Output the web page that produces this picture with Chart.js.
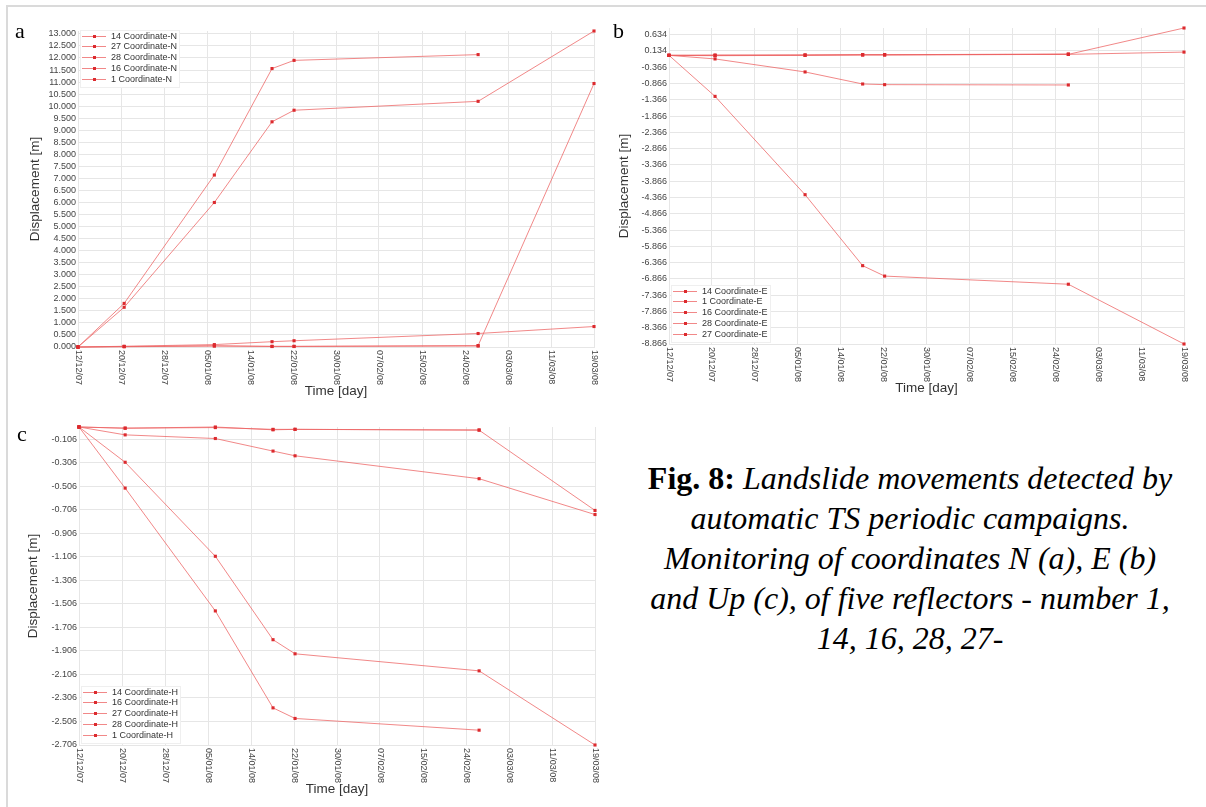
<!DOCTYPE html>
<html>
<head>
<meta charset="utf-8">
<title>Fig. 8 - Landslide movements</title>
<script src="https://cdn.jsdelivr.net/npm/chart.js@4.4.1/dist/chart.umd.min.js"></script>
<style>
    body { margin: 0; background: #fff; }
    #page { position: relative; width: 1206px; height: 807px; overflow: hidden; background: #fff; }
    #frame { position: absolute; left: 6px; top: 5px; right: -4px; bottom: -4px; border-top: 2px solid #dadada; border-left: 2px solid #dadada; }
    canvas { position: absolute; }
    .panel { position: absolute; font: 22px/1 "Liberation Serif", "Times New Roman", serif; color: #000; }
    #caption { position: absolute; left: 615px; top: 458px; width: 590px; text-align: center; font: 32px/40px "Liberation Serif", "Times New Roman", serif; color: #000; }
</style>
</head>
<body>
<div id="page">
    <div id="frame"></div>
    <canvas id="chart_n" width="575" height="382" style="left:23px;top:21px"></canvas>
    <canvas id="chart_e" width="576" height="382" style="left:612px;top:18px"></canvas>
    <canvas id="chart_h" width="578" height="384" style="left:21px;top:417px"></canvas>
    <div class="panel" style="left:15px;top:20px">a</div>
    <div class="panel" style="left:613px;top:20px">b</div>
    <div class="panel" style="left:17px;top:423px">c</div>
    <div id="caption"><b>Fig. 8:</b> <i>Landslide movements detected by<br>automatic TS periodic campaigns.<br>Monitoring of coordinates N (a), E (b)<br>and Up (c), of five reflectors - number 1,<br>14, 16, 28, 27-</i></div>
</div>
<script>
// Survey dates, days from the first campaign (12/12/07)
const surveyDays = [0, 8.8, 26.0, 37.0, 41.2, 76.3, 98.4];

// Time axis
const timeLabels = ['12/12/07', '20/12/07', '28/12/07', '05/01/08', '14/01/08', '22/01/08', '30/01/08', '07/02/08', '15/02/08', '24/02/08', '03/03/08', '11/03/08', '19/03/08'];
const timeStep = 8.2;

// Coordinate N [m]
const n14 = [0, 0.03, 0.10, 0.22, 0.26, 0.56, 0.85];
const n27 = [0, 1.81, 7.14, 11.56, 11.90, 12.14, null];
const n28 = [0, 0.01, 0.04, 0.02, 0.02, 0.04, null];
const n16 = [0, 0.02, 0.05, 0.03, 0.03, 0.06, 10.94];
const n1 = [0, 1.65, 6.00, 9.35, 9.83, 10.20, 13.12];
const nTicks = [0, 0.5, 1, 1.5, 2, 2.5, 3, 3.5, 4, 4.5, 5, 5.5, 6, 6.5, 7, 7.5, 8, 8.5, 9, 9.5, 10, 10.5, 11, 11.5, 12, 12.5, 13];

// Coordinate E [m]
const e14 = [0, -0.01, 0.00, 0.01, 0.01, 0.03, 0.10];
const e1 = [0, -1.26, -4.28, -6.46, -6.78, -7.03, -8.866];
const e16 = [0, 0.00, 0.01, 0.02, 0.02, 0.03, 0.84];
const e28 = [0, 0.01, 0.01, 0.02, 0.02, 0.04, null];
const e27 = [0, -0.11, -0.51, -0.88, -0.90, -0.91, null];
const eTicks = [-8.866, -8.366, -7.866, -7.366, -6.866, -6.366, -5.866, -5.366, -4.866, -4.366, -3.866, -3.366, -2.866, -2.366, -1.866, -1.366, -0.866, -0.366, 0.134, 0.634];

// Coordinate H [m]
const h14 = [0, -0.067, -0.098, -0.205, -0.245, -0.44, -0.745];
const h16 = [0, -0.01, 0.00, -0.024, -0.02, -0.027, -0.71];
const h27 = [0, -0.52, -1.565, -2.39, -2.48, -2.58, null];
const h28 = [0, -0.01, -0.005, -0.02, -0.02, -0.025, null];
const h1 = [0, -0.30, -1.10, -1.81, -1.93, -2.075, -2.706];
const hTicks = [-2.706, -2.506, -2.306, -2.106, -1.906, -1.706, -1.506, -1.306, -1.106, -0.906, -0.706, -0.506, -0.306, -0.106];

// Styles
const lineColor = 'rgba(236, 96, 96, 0.75)';
const pointColor = '#dc2a2e';
const gridColor = '#e6e6e6';
const fontFamily = '"Liberation Sans", Arial, sans-serif';

// Rotated date labels under the time axis (read top to bottom)
const timeLabelsPlugin =
{
    id: 'timeLabels'
    ,afterDraw: (chart) =>
    {
        const ctx = chart.ctx;
        const scale = chart.scales.x;
        ctx.save();
        ctx.font = '9px ' + fontFamily;
        ctx.fillStyle = '#444';
        ctx.textAlign = 'left';
        ctx.textBaseline = 'middle';
        scale.ticks.forEach((tick, i) =>
        {
            ctx.save();
            ctx.translate(scale.getPixelForValue(tick.value), chart.chartArea.bottom + 3);
            ctx.rotate(Math.PI / 2);
            ctx.fillText(timeLabels[i], 0, 0);
            ctx.restore();
        });
        ctx.restore();
    }
};

// Small boxed legend inside the plot
const boxLegendPlugin =
{
    id: 'boxLegend'
    ,beforeDatasetsDraw: (chart, args, opts) =>
    {
        const ctx = chart.ctx;
        const area = chart.chartArea;
        const sets = chart.data.datasets;
        const rowH = 10.8, w = 99, h = 57;
        const x = area.left + 2;
        const y = opts.corner == 'bottom' ? area.bottom - 2 - h : area.top - 1;

        ctx.save();
        ctx.fillStyle = '#fff';
        ctx.fillRect(x, y, w, h);
        ctx.strokeStyle = '#efefef';
        ctx.lineWidth = 1;
        ctx.strokeRect(x + 0.5, y + 0.5, w, h);
        ctx.font = '9px ' + fontFamily;
        ctx.textBaseline = 'middle';
        sets.forEach((ds, i) =>
        {
            const cy = Math.round(y + 5.5 + rowH * i);
            ctx.strokeStyle = ds.borderColor;
            ctx.beginPath();
            ctx.moveTo(x + 2, cy + 0.5);
            ctx.lineTo(x + 26, cy + 0.5);
            ctx.stroke();
            ctx.fillStyle = ds.pointBackgroundColor;
            ctx.fillRect(x + 13, cy - 1, 3, 3);
            ctx.fillStyle = '#333';
            ctx.fillText(ds.label, x + 31, cy + 0.5);
        });
        ctx.restore();
    }
};

// Dataset
const series = (label, values) =>
({
    label: label
    ,data: values.map((v, i) => ({x: surveyDays[i], y: v}))
    ,borderColor: lineColor
    ,borderWidth: 1
    ,pointStyle: 'rect'
    ,pointRadius: 2.2
    ,pointBackgroundColor: pointColor
    ,pointBorderColor: pointColor
    ,pointBorderWidth: 0
    ,tension: 0
    ,clip: false
});

const createChart = (id, datasets, ticks, corner, axisWidth) =>
{
    const values = datasets.flatMap((d) => d.data.map((p) => p.y)).filter((v) => v !== null);
    const title = (text) => ({display: true, text: text, color: '#333', font: {family: fontFamily, size: 13.5}, padding: {top: 4, bottom: 4}});

    new Chart(document.getElementById(id),
    {
        type: 'line'
        ,data: {datasets: datasets}
        ,options:
        {
            responsive: false
            ,animation: false
            ,events: []
            ,layout: {padding: {top: 10, right: 4, left: 0, bottom: 0}}
            ,plugins:
            {
                legend: {display: false}
                ,tooltip: {enabled: false}
                ,boxLegend: {corner: corner}
            }
            ,scales:
            {
                x:
                {
                    type: 'linear'
                    ,min: 0
                    ,max: timeStep * (timeLabels.length - 1)
                    ,afterBuildTicks: (axis) => { axis.ticks = timeLabels.map((t, i) => ({value: i * timeStep})); }
                    ,afterFit: (axis) => { axis.height = 56; }
                    ,ticks: {display: false}
                    ,grid: {color: gridColor, drawTicks: false}
                    ,border: {color: gridColor}
                    ,title: title('Time [day]')
                }
                ,y:
                {
                    min: Math.min(...values)
                    ,max: Math.max(...values)
                    ,afterBuildTicks: (axis) => { axis.ticks = ticks.map((v) => ({value: v})); }
                    ,afterFit: (axis) => { axis.width = axisWidth; }
                    ,ticks: {autoSkip: false, callback: (v) => v.toFixed(3), color: '#444', font: {family: fontFamily, size: 9}, padding: 2}
                    ,grid: {color: gridColor, drawTicks: false}
                    ,border: {color: gridColor}
                    ,title: title('Displacement [m]')
                }
            }
        }
        ,plugins: [timeLabelsPlugin, boxLegendPlugin]
    });
};

// Charts
createChart('chart_n',
[
    series('14 Coordinate-N', n14)
    ,series('27 Coordinate-N', n27)
    ,series('28 Coordinate-N', n28)
    ,series('16 Coordinate-N', n16)
    ,series('1 Coordinate-N', n1)
], nTicks, 'top', 55);

createChart('chart_e',
[
    series('14 Coordinate-E', e14)
    ,series('1 Coordinate-E', e1)
    ,series('16 Coordinate-E', e16)
    ,series('28 Coordinate-E', e28)
    ,series('27 Coordinate-E', e27)
], eTicks, 'bottom', 57);

createChart('chart_h',
[
    series('14 Coordinate-H', h14)
    ,series('16 Coordinate-H', h16)
    ,series('27 Coordinate-H', h27)
    ,series('28 Coordinate-H', h28)
    ,series('1 Coordinate-H', h1)
], hTicks, 'bottom', 58);
</script>
</body>
</html>
